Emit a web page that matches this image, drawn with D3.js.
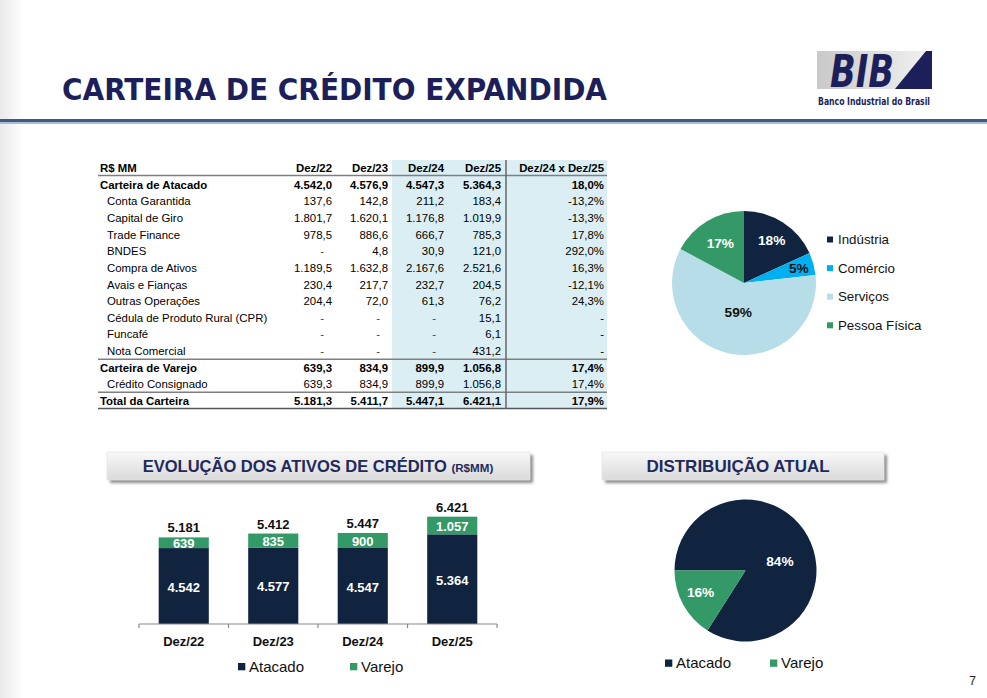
<!DOCTYPE html>
<html>
<head>
<meta charset="utf-8">
<script src="https://cdn.jsdelivr.net/npm/d3@7"></script>
<style>
body { margin: 0; background: #fff; }
svg { display: block; font-family: "Liberation Sans", Arial, sans-serif; }
</style>
</head>
<body>
<svg id="slide" width="987" height="698"></svg>
<script>
// ---- data ----
var table_columns = ["Dez/22", "Dez/23", "Dez/24", "Dez/25"];
var change_header = "Dez/24 x Dez/25";
var row_labels = ["Carteira de Atacado", "Conta Garantida", "Capital de Giro", "Trade Finance", "BNDES",
    "Compra de Ativos", "Avais e Fianças", "Outras Operações", "Cédula de Produto Rural (CPR)", "Funcafé",
    "Nota Comercial", "Carteira de Varejo", "Crédito Consignado", "Total da Carteira"];
var row_level = [0, 1, 1, 1, 1, 1, 1, 1, 1, 1, 1, 0, 1, 0];
var dez22 = [4542.0, 137.6, 1801.7, 978.5, null, 1189.5, 230.4, 204.4, null, null, null, 639.3, 639.3, 5181.3];
var dez23 = [4576.9, 142.8, 1620.1, 886.6, 4.8, 1632.8, 217.7, 72.0, null, null, null, 834.9, 834.9, 5411.7];
var dez24 = [4547.3, 211.2, 1176.8, 666.7, 30.9, 2167.6, 232.7, 61.3, null, null, null, 899.9, 899.9, 5447.1];
var dez25 = [5364.3, 183.4, 1019.9, 785.3, 121.0, 2521.6, 204.5, 76.2, 15.1, 6.1, 431.2, 1056.8, 1056.8, 6421.1];
var change_pct = [18.0, -13.2, -13.3, 17.8, 292.0, 16.3, -12.1, 24.3, null, null, null, 17.4, 17.4, 17.9];

var sector_names = ["Indústria", "Comércio", "Serviços", "Pessoa Física"];
var sector_shares = [18, 5, 59, 17];

var bar_categories = ["Dez/22", "Dez/23", "Dez/24", "Dez/25"];
var atacado = [4542, 4577, 4547, 5364];
var varejo = [639, 835, 900, 1057];
var totals = [5181, 5412, 5447, 6421];

var dist_names = ["Atacado", "Varejo"];
var dist_shares = [84, 16];

// ---- styles ----
var navy = "#10243f", green = "#339966", title_blue = "#1c1f5a";
var sector_colors = ["#10243f", "#00b0f0", "#b7dee8", "#339966"];
var sector_text = ["#fff", "#111", "#111", "#fff"];

var br = d3.formatLocale({decimal: ",", thousands: ".", grouping: [3], currency: ["R$", ""], minus: "-"});
var fmt1 = br.format(",.1f"), fmt0 = br.format(",.0f"), fmtp = br.format(".1f");

var svg = d3.select("#slide");
var defs = svg.append("defs");

var edge = defs.append("linearGradient").attr("id", "edge");
edge.append("stop").attr("offset", 0).attr("stop-color", "#e9e9e9");
edge.append("stop").attr("offset", 1).attr("stop-color", "#fff");

var boxg = defs.append("linearGradient").attr("id", "boxg").attr("x2", 0).attr("y2", 1);
boxg.append("stop").attr("offset", 0).attr("stop-color", "#f8f8f8");
boxg.append("stop").attr("offset", 1).attr("stop-color", "#dadada");

var logog = defs.append("linearGradient").attr("id", "logog");
logog.append("stop").attr("offset", 0).attr("stop-color", "#c9c9c9");
logog.append("stop").attr("offset", 1).attr("stop-color", "#f2f2f2");

defs.append("filter").attr("id", "blur").append("feGaussianBlur").attr("stdDeviation", 1.6);

// page background edge
svg.append("rect").attr("width", 24).attr("height", 698).attr("fill", "url(#edge)");

// ---- header ----
svg.append("text")
    .attr("x", 62).attr("y", 100)
    .attr("textLength", 545).attr("lengthAdjust", "spacingAndGlyphs")
    .attr("font-family", "DejaVu Sans Condensed")
    .attr("font-weight", "bold").attr("font-size", 31)
    .attr("fill", title_blue)
    .text("CARTEIRA DE CRÉDITO EXPANDIDA");

var logo = svg.append("g");
logo.append("rect").attr("x", 817).attr("y", 51).attr("width", 115).attr("height", 38).attr("fill", "url(#logog)");
logo.append("polygon").attr("points", "926,51 932,51 932,89 895,89").attr("fill", title_blue);
logo.append("text")
    .attr("x", 830).attr("y", 87)
    .attr("textLength", 64).attr("lengthAdjust", "spacingAndGlyphs")
    .attr("font-family", "DejaVu Sans Condensed").attr("font-weight", "bold").attr("font-style", "italic")
    .attr("font-size", 44).attr("fill", title_blue)
    .text("BIB");
logo.append("text")
    .attr("x", 818).attr("y", 105)
    .attr("textLength", 112).attr("lengthAdjust", "spacingAndGlyphs")
    .attr("font-family", "DejaVu Sans Condensed").attr("font-weight", "bold")
    .attr("font-size", 11).attr("fill", title_blue)
    .text("Banco Industrial do Brasil");

svg.append("rect").attr("x", 0).attr("y", 119).attr("width", 987).attr("height", 3).attr("fill", "#3b5b85");
svg.append("rect").attr("x", 0).attr("y", 122).attr("width", 987).attr("height", 2).attr("fill", "#aebdcf");

// ---- table ----
var col_right = [332, 388, 444, 501];
var change_right = 604;
var row_y = d3.scaleLinear().domain([0, row_labels.length]).range([168, 401]);
var tbl = svg.append("g").attr("font-size", 11.4).attr("fill", "#000");

tbl.append("rect").attr("x", 392).attr("y", 160).attr("width", 215).attr("height", 249).attr("fill", "#daeef3");

function hline(y, c) {
    tbl.append("line").attr("x1", 98).attr("x2", 607).attr("y1", y).attr("y2", y)
        .attr("stroke", c).attr("stroke-width", 1.5);
}
hline(175.5, "#7f7f7f");
hline(row_y(11.5) - 0.2, "#7f7f7f");
hline(row_y(13.5) - 0.5, "#7f7f7f");
hline(408.5, "#555");
tbl.append("line").attr("x1", 506).attr("x2", 506).attr("y1", 160).attr("y2", 409)
    .attr("stroke", "#666").attr("stroke-width", 1.5);

tbl.append("text").attr("x", 100).attr("y", row_y(0)).attr("dy", "0.35em").attr("font-weight", "bold").text("R$ MM");
tbl.selectAll("text.colhead").data(table_columns).enter().append("text")
    .attr("class", "colhead")
    .attr("x", (d, i) => col_right[i]).attr("y", row_y(0)).attr("dy", "0.35em")
    .attr("text-anchor", "end").attr("font-weight", "bold").text(d => d);
tbl.append("text").attr("x", change_right).attr("y", row_y(0)).attr("dy", "0.35em")
    .attr("text-anchor", "end").attr("font-weight", "bold").text(change_header);

var columns = [dez22, dez23, dez24, dez25];
var rows = tbl.selectAll("g.row").data(row_labels).enter().append("g")
    .attr("class", "row")
    .attr("transform", (d, i) => "translate(0," + row_y(i + 1) + ")")
    .attr("font-weight", (d, i) => row_level[i] == 0 ? "bold" : "normal");

rows.append("text")
    .attr("x", (d, i) => row_level[i] == 0 ? 100 : 107)
    .attr("dy", "0.35em").text(d => d);

columns.forEach((col, c) => {
    rows.append("text")
        .attr("x", (d, i) => col[i] == null ? col_right[c] - 8 : col_right[c])
        .attr("dy", "0.35em").attr("text-anchor", "end")
        .attr("fill", (d, i) => col[i] == null ? "#444" : "#000")
        .text((d, i) => col[i] == null ? "-" : fmt1(col[i]));
});
rows.append("text")
    .attr("x", change_right).attr("dy", "0.35em").attr("text-anchor", "end")
    .text((d, i) => change_pct[i] == null ? "-" : fmtp(change_pct[i]) + "%");

// ---- sector pie ----
var pie_top = svg.append("g").attr("transform", "translate(744,283)");
var r_top = 72;
var arc_top = d3.arc().innerRadius(0).outerRadius(r_top);
var top_label_r = [0.71, 0.79, 0.42, 0.64];
var top_slices = d3.pie().sort(null).value(d => d)(sector_shares);

pie_top.selectAll("path").data(top_slices).enter().append("path")
    .attr("d", arc_top).attr("fill", (d, i) => sector_colors[i]);
pie_top.selectAll("text").data(top_slices).enter().append("text")
    .attr("transform", (d, i) => {
        var a = (d.startAngle + d.endAngle) / 2, rr = r_top * top_label_r[i];
        return "translate(" + (Math.sin(a) * rr) + "," + (-Math.cos(a) * rr) + ")";
    })
    .attr("text-anchor", "middle").attr("dy", "0.35em")
    .attr("font-weight", "bold").attr("font-size", 13.7)
    .attr("fill", (d, i) => sector_text[i])
    .text(d => d.value + "%");

var leg_top = svg.append("g").attr("transform", "translate(827,239.5)");
var leg_items = leg_top.selectAll("g").data(sector_names).enter().append("g")
    .attr("transform", (d, i) => "translate(0," + (i * 28.6) + ")");
leg_items.append("rect").attr("y", -3).attr("width", 6).attr("height", 6).attr("fill", (d, i) => sector_colors[i]);
leg_items.append("text").attr("x", 11).attr("dy", "0.36em").attr("font-size", 13.3).attr("fill", "#111").text(d => d);

// ---- section boxes ----
function section_box(x, y, w, h) {
    svg.append("rect").attr("x", x + 3).attr("y", y + 3).attr("width", w).attr("height", h)
        .attr("fill", "#8d8d8d").attr("filter", "url(#blur)");
    svg.append("rect").attr("x", x).attr("y", y).attr("width", w).attr("height", h)
        .attr("fill", "url(#boxg)").attr("stroke", "#e6e6e6").attr("stroke-width", 0.8);
}
section_box(107, 452, 423, 28);
section_box(602, 452, 282, 28);

var t1 = svg.append("text").attr("x", 318).attr("y", 466.5).attr("dy", "0.36em")
    .attr("text-anchor", "middle").attr("font-weight", "bold").attr("fill", "#1f2a5c");
t1.append("tspan").attr("font-size", 16.5).text("EVOLUÇÃO DOS ATIVOS DE CRÉDITO ");
t1.append("tspan").attr("font-size", 11.6).text("(R$MM)");

svg.append("text").attr("x", 738).attr("y", 466).attr("dy", "0.36em")
    .attr("text-anchor", "middle").attr("font-weight", "bold").attr("font-size", 17)
    .attr("fill", "#1f2a5c").text("DISTRIBUIÇÃO ATUAL");

// ---- stacked bars ----
var bar_rows = bar_categories.map((c, i) => ({cat: c, Atacado: atacado[i], Varejo: varejo[i], total: totals[i]}));
var x = d3.scaleBand().domain(bar_categories).range([139, 497]).paddingInner(0.44).paddingOuter(0.22);
var y = d3.scaleLinear().domain([0, 7000]).range([624, 507]);
var stacked = d3.stack().keys(["Atacado", "Varejo"])(bar_rows);
var bar_colors = [navy, green];

var chart = svg.append("g");
var layers = chart.selectAll("g.layer").data(stacked).enter().append("g")
    .attr("class", "layer").attr("fill", (d, i) => bar_colors[i]);
layers.selectAll("rect").data(d => d).enter().append("rect")
    .attr("x", d => x(d.data.cat)).attr("width", x.bandwidth())
    .attr("y", d => y(d[1])).attr("height", d => y(d[0]) - y(d[1]));

layers.selectAll("text").data(d => d).enter().append("text")
    .attr("x", d => x(d.data.cat) + x.bandwidth() / 2)
    .attr("y", d => (y(d[0]) + y(d[1])) / 2 + 1)
    .attr("dy", "0.36em").attr("text-anchor", "middle")
    .attr("font-weight", "bold").attr("font-size", 13).attr("fill", "#fff")
    .text(d => fmt0(d[1] - d[0]));

chart.selectAll("text.total").data(bar_rows).enter().append("text")
    .attr("class", "total")
    .attr("x", d => x(d.cat) + x.bandwidth() / 2)
    .attr("y", d => y(d.total) - 5)
    .attr("text-anchor", "middle").attr("font-weight", "bold").attr("font-size", 13).attr("fill", "#111")
    .text(d => fmt0(d.total));

var axis = chart.append("g").attr("transform", "translate(0,624)");
axis.call(d3.axisBottom(x).tickSize(0).tickPadding(13));
axis.select(".domain").remove();
axis.selectAll("text").attr("font-family", "Liberation Sans, Arial, sans-serif")
    .attr("font-size", 13).attr("font-weight", "bold").attr("fill", "#111");
axis.append("line").attr("x1", 139).attr("x2", 497).attr("stroke", "#8a8a8a").attr("stroke-width", 1.2);
axis.selectAll("line.tk").data(d3.range(bar_categories.length + 1)).enter().append("line")
    .attr("class", "tk")
    .attr("x1", i => 139 + i * x.step()).attr("x2", i => 139 + i * x.step())
    .attr("y1", 0).attr("y2", 4).attr("stroke", "#8a8a8a").attr("stroke-width", 1.2);

function legend(g, names, colors, gap) {
    var items = g.selectAll("g").data(names).enter().append("g")
        .attr("transform", (d, i) => "translate(" + (i * gap) + ",0)");
    items.append("rect").attr("y", -3.5).attr("width", 7.3).attr("height", 7.3).attr("fill", (d, i) => colors[i]);
    items.append("text").attr("x", 11).attr("dy", "0.36em").attr("font-size", 15).attr("fill", "#111").text(d => d);
}
legend(svg.append("g").attr("transform", "translate(238,666.5)"), ["Atacado", "Varejo"], bar_colors, 112);

// ---- distribution pie ----
var pie_bot = svg.append("g").attr("transform", "translate(745.5,570.5)");
var r_bot = 71;
var arc_bot = d3.arc().innerRadius(0).outerRadius(r_bot);
var bot_slices = d3.pie().sort(null).startAngle(-Math.PI / 2).endAngle(1.5 * Math.PI).value(d => d)(dist_shares);
var bot_label = [[0.5, 0.25], [0.7, 0.06]];

pie_bot.selectAll("path").data(bot_slices).enter().append("path")
    .attr("d", arc_bot).attr("fill", (d, i) => bar_colors[i]);
pie_bot.selectAll("text").data(bot_slices).enter().append("text")
    .attr("transform", (d, i) => {
        var a = (d.startAngle + d.endAngle) / 2 + bot_label[i][1], rr = r_bot * bot_label[i][0];
        return "translate(" + (Math.sin(a) * rr) + "," + (-Math.cos(a) * rr) + ")";
    })
    .attr("text-anchor", "middle").attr("dy", "0.35em")
    .attr("font-weight", "bold").attr("font-size", 13.7).attr("fill", "#fff")
    .text(d => d.value + "%");

legend(svg.append("g").attr("transform", "translate(665,663)"), dist_names, bar_colors, 105);

svg.append("text").attr("x", 976).attr("y", 685).attr("text-anchor", "end")
    .attr("font-size", 12).attr("fill", "#222").text("7");
</script>
</body>
</html>
